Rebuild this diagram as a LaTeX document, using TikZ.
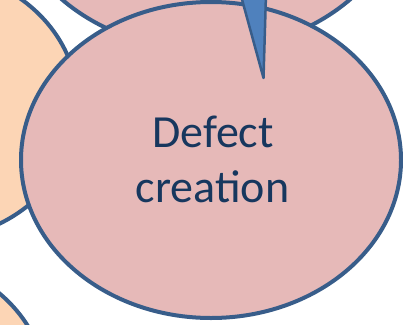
\documentclass[tikz,border=0pt]{standalone}
\usepackage{fontspec}
\setmainfont{Carlito}
\usetikzlibrary{shapes.geometric}
\definecolor{pinkfill}{HTML}{E6B9B8}
\definecolor{peachfill}{HTML}{FCD5B5}
\definecolor{edgeblue}{HTML}{385D8A}
\definecolor{arrowblue}{HTML}{4F81BD}
\definecolor{textnavy}{HTML}{17375E}
\begin{document}
\begin{tikzpicture}[x=1pt,y=-1pt,
  bubble/.style={ellipse, draw=edgeblue, line width=4pt, inner sep=0pt, outer sep=0pt},
  pinkbubble/.style={bubble, fill=pinkfill},
  peachbubble/.style={bubble, fill=peachfill},
  captiontext/.style={font=\fontsize{46}{55}\selectfont, text=textnavy, anchor=base, inner sep=0pt},
  tipshape/.style={fill=arrowblue, draw=edgeblue, line width=2.5pt, line join=round}]
\useasboundingbox (0,0) rectangle (403,324);
\node[pinkbubble, minimum width=400pt, minimum height=330pt] (top) at (206,-115) {};
\node[peachbubble, minimum width=300pt, minimum height=270pt] (left) at (-72,105) {};
\node[peachbubble, minimum width=300pt, minimum height=270pt] (lowleft) at (-103,392) {};
\node[pinkbubble, minimum width=380pt, minimum height=316pt] (main) at (211,160) {};
\filldraw[tipshape] (240.5,-6) -- (266,-6) -- (263.5,78) -- cycle;
\node[captiontext] (l1) at (213,147) {Defect};
\node[captiontext] (l2) at (212.5,202) {creation};
\end{tikzpicture}
\end{document}
